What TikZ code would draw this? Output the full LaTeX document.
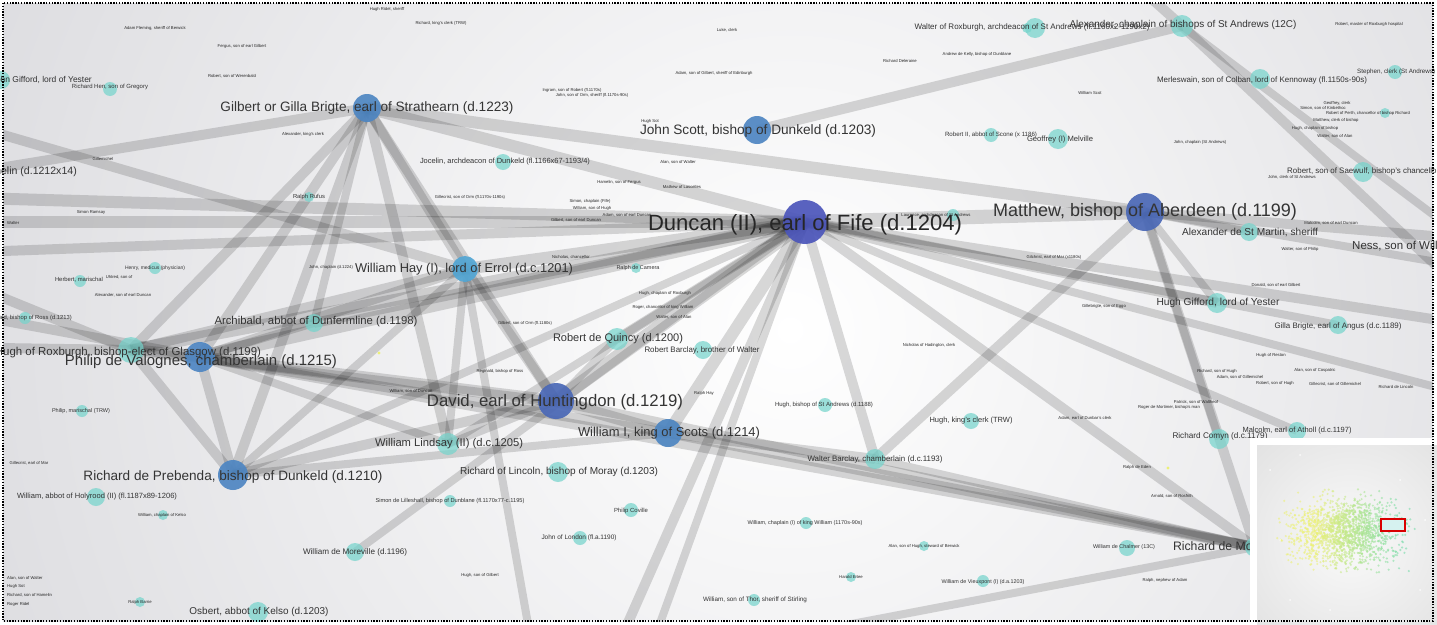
\documentclass[tikz,border=0pt]{standalone}
\usepackage{graphicx}
\usepackage{fontspec}
\setmainfont{Liberation Sans}
\definecolor{bgedge}{RGB}{216,216,220}
\definecolor{hubD}{RGB}{76,86,186}
\definecolor{hubM}{RGB}{74,104,182}
\definecolor{hubB}{RGB}{78,134,194}
\definecolor{hubL}{RGB}{82,166,212}
\definecolor{tealn}{RGB}{118,212,204}
\definecolor{labcol}{RGB}{52,52,52}
\definecolor{cloudY}{RGB}{236,240,120}
\definecolor{cloudG}{RGB}{120,220,170}
\newcommand{\fw}[2]{\resizebox{#1pt}{!}{#2}}
\pgfdeclarelayer{bg}
\pgfdeclarelayer{edges}
\pgfsetlayers{bg,edges,main}
\begin{document}
\begin{tikzpicture}[x=1pt,y=-1pt,
  band/.style={draw=black, draw opacity=0.15, line width=#1},
  hub/.style={circle, inner sep=0pt, minimum size=#1, fill opacity=0.92},
  tnode/.style={circle, inner sep=0pt, minimum size=#1, fill=tealn, fill opacity=0.72},
  lab/.style={inner sep=0pt, text=labcol},
  slab/.style={inner sep=0pt, text=black!80},
  tlab/.style={inner sep=0pt, font=\fontsize{4.2}{5}\selectfont, text=black!85},
]
\useasboundingbox (0,0) rectangle (1437,624);

% ---------- background ----------
\begin{pgfonlayer}{bg}
\fill[white] (0,0) rectangle (1437,624);
\begin{scope}
\clip (3,3) rectangle (1433,621);
\shade[inner color=white, outer color=bgedge] (790,330) circle (1000pt);
\end{scope}
\end{pgfonlayer}

% ---------- people: circles ----------
\node[hub=44pt, fill=hubD] (D)  at (805,222) {};
\node[hub=38pt, fill=hubM] (M)  at (1145,212) {};
\node[hub=36pt, fill=hubM] (DH) at (556,401) {};
\node[hub=28pt, fill=hubB] (JS) at (757,130) {};
\node[hub=28pt, fill=hubB] (G)  at (367,108) {};
\node[hub=30pt, fill=hubB] (PV) at (200,357) {};
\node[hub=30pt, fill=hubB] (RP) at (233,475) {};
\node[hub=28pt, fill=hubB] (WK) at (668,433) {};
\node[hub=26pt, fill=hubL] (WH) at (465,269) {};
\node[tnode=26pt] (HR)  at (131,350) {};
\node[tnode=18pt] (AR)  at (314,323) {};
\node[tnode=22pt] (RQ)  at (617,339) {};
\node[tnode=18pt] (RB)  at (703,350) {};
\node[tnode=22pt] (WL)  at (448,444) {};
\node[tnode=20pt] (RL)  at (558,472) {};
\node[tnode=20pt] (WB)  at (875,459) {};
\node[tnode=16pt] (HK)  at (971,421) {};
\node[tnode=14pt] (HB)  at (825,405) {};
\node[tnode=20pt] (HG)  at (1217,303) {};
\node[tnode=18pt] (GA)  at (1338,325) {};
\node[tnode=18pt] (AM)  at (1249,232) {};
\node[tnode=22pt] (AC)  at (1182,26) {};
\node[tnode=20pt] (WR)  at (1035,28) {};
\node[tnode=20pt] (MS)  at (1260,79) {};
\node[tnode=20pt] (RS)  at (1363,172) {};
\node[tnode=20pt] (GM)  at (1058,139) {};
\node[tnode=14pt] (RSc) at (991,135) {};
\node[tnode=16pt] (JD)  at (503,162) {};
\node[tnode=20pt] (RC)  at (1219,439) {};
\node[tnode=18pt] (MA)  at (1297,431) {};
\node[tnode=16pt] (WC)  at (1127,548) {};
\node[tnode=18pt] (WdM) at (355,552) {};
\node[tnode=20pt] (OK)  at (258,612) {};
\node[tnode=18pt] (WHo) at (96,497) {};
\node[tnode=14pt] (JL)  at (580,538) {};
\node[tnode=14pt] (PC)  at (631,510) {};
\node[tnode=20pt] (RM)  at (1255,547) {};
\node[tnode=14pt] (ST)  at (1395,72) {};
\node[tnode=18pt] (JG)  at (1,80) {};
\node[tnode=14pt] (RH)  at (110,89) {};
\node[tnode=12pt] (PM)  at (82,411) {};
\node[tnode=12pt] (HM)  at (80,281) {};
\node[tnode=12pt] (HP)  at (155,268) {};
\node[tnode=12pt] (BR)  at (25,318) {};
\node[tnode=12pt] (SL)  at (450,501) {};
\node[tnode=12pt] (WCh) at (806,523) {};
\node[tnode=10pt] (SH)  at (924,546) {};
\node[tnode=10pt] (HE)  at (851,577) {};
\node[tnode=12pt] (WV)  at (983,581) {};
\node[tnode=12pt] (WT)  at (754,600) {};
\node[tnode=12pt] (LA)  at (953,215) {};
\node[tnode=10pt] (RR)  at (309,197) {};
\node[tnode=10pt] (RCa) at (636,268) {};
\node[tnode=10pt] (RPe) at (1385,113) {};
\node[tnode=10pt] (WCk) at (163,515) {};
\node[tnode=10pt] (RBa) at (140,602) {};
\node[tnode=10pt] (RHe) at (1027,28) {};

% ---------- off-picture ends of connectors ----------
\coordinate (L1) at (-300,190);
\coordinate (L2) at (-300,222);
\coordinate (L3) at (-300,262);
\coordinate (L4) at (-200,283);
\coordinate (L5) at (-200,215);
\coordinate (L6) at (-200,345);
\coordinate (L7) at (-100,105);
\coordinate (HMn) at (-25,172);
\coordinate (B1) at (585,720);
\coordinate (B2) at (625,720);
\coordinate (B3) at (545,720);
\coordinate (B4) at (600,672);
\coordinate (R1) at (1600,345);
\coordinate (R2) at (1600,430);
\coordinate (R3) at (1600,250);
\coordinate (R4) at (1600,290);
\coordinate (R5) at (1600,420);
\coordinate (R6) at (1600,340);
\coordinate (T1) at (1064,-80);

% ---------- connectors ----------
\begin{pgfonlayer}{edges}
\begin{scope}
\clip (3,3) rectangle (1433,621);
% Duncan
\draw[band=14] (D.center) -- (M.center);
\draw[band=12] (D.center) -- (G.center);
\draw[band=12] (D.center) -- (WH.center);
\draw[band=10] (D.center) -- (AR.center);
\draw[band=14] (D.center) -- (PV.center);
\draw[band=12] (D.center) -- (HR.center);
\draw[band=10] (D.center) -- (RQ.center);
\draw[band=14] (D.center) -- (DH.center);
\draw[band=12] (D.center) -- (WK.center);
\draw[band=8]  (D.center) -- (WL.center);
\draw[band=8]  (D.center) -- (RP.center);
\draw[band=10] (D.center) -- (WB.center);
\draw[band=10] (D.center) -- (RM.center);
\draw[band=10] (D.center) -- (HG.center);
\draw[band=8]  (D.center) -- (GA.center);
\draw[band=8]  (D.center) -- (MA.center);
\draw[band=8]  (D.center) -- (WdM.center);
\draw[band=12] (D.center) -- (L1);
\draw[band=12] (D.center) -- (L2);
\draw[band=10] (D.center) -- (L3);
\draw[band=10] (D.center) -- (B1);
\draw[band=8]  (D.center) -- (B2);
\draw[band=10] (D.center) -- (R1);
\draw[band=8]  (D.center) -- (R2);
% Matthew
\draw[band=12] (M.center) -- (G.center);
\draw[band=10] (M.center) -- (WB.center);
\draw[band=10] (M.center) -- (RM.center);
\draw[band=8]  (M.center) -- (HG.center);
\draw[band=8]  (M.center) -- (AM.center);
\draw[band=8]  (M.center) -- (RC.center);
\draw[band=10] (M.center) -- (R3);
\draw[band=8]  (M.center) -- (R4);
% John Scott and the chaplain
\draw[band=10] (JS.center) -- (AC.center);
\draw[band=10] (T1) -- (AC.center);
\draw[band=10] (AC.center) -- (R5);
\draw[band=8]  (AC.center) -- (R6);
% Gilbert
\draw[band=10] (G.center) -- (PV.center);
\draw[band=10] (G.center) -- (HR.center);
\draw[band=10] (G.center) -- (RP.center);
\draw[band=10] (G.center) -- (WH.center);
\draw[band=10] (G.center) -- (WL.center);
\draw[band=10] (G.center) -- (DH.center);
\draw[band=8]  (G.center) -- (AR.center);
\draw[band=10] (G.center) -- (HMn);
% William Hay
\draw[band=10] (WH.center) -- (L7);
\draw[band=10] (WH.center) -- (PV.center);
\draw[band=10] (WH.center) -- (HR.center);
\draw[band=8]  (WH.center) -- (RP.center);
\draw[band=10] (WH.center) -- (DH.center);
\draw[band=8]  (WH.center) -- (WL.center);
\draw[band=8]  (WH.center) -- (B3);
% Philip de Valognes
\draw[band=12] (PV.center) -- (HR.center);
\draw[band=10] (PV.center) -- (RP.center);
\draw[band=12] (PV.center) -- (DH.center);
\draw[band=10] (PV.center) -- (WK.center);
\draw[band=10] (PV.center) -- (RM.center);
\draw[band=8]  (PV.center) -- (AR.center);
\draw[band=8]  (PV.center) -- (WL.center);
\draw[band=10] (PV.center) -- (L4);
% Hugh of Roxburgh
\draw[band=10] (HR.center) -- (RP.center);
\draw[band=10] (HR.center) -- (L5);
\draw[band=10] (HR.center) -- (L6);
\draw[band=8]  (HR.center) -- (DH.center);
% David, William I and the rest
\draw[band=12] (DH.center) -- (WK.center);
\draw[band=10] (DH.center) -- (RP.center);
\draw[band=10] (DH.center) -- (RM.center);
\draw[band=8]  (DH.center) -- (RQ.center);
\draw[band=8]  (DH.center) -- (WL.center);
\draw[band=10] (WK.center) -- (RM.center);
\draw[band=10] (WK.center) -- (WB.center);
\draw[band=8]  (WK.center) -- (RP.center);
\draw[band=8]  (WB.center) -- (RM.center);
\draw[band=8]  (RM.center) -- (B4);
\end{scope}
\end{pgfonlayer}

% ---------- labels ----------
\node[lab, text=black!85] (Dl) at (805,225) {\fw{314}{Duncan (II), earl of Fife (d.1204)}};
\node[lab] (Ml)  at (1145,212) {\fw{304}{Matthew, bishop of Aberdeen (d.1199)}};
\node[lab] (JSl) at (758,131) {\fw{236}{John Scott, bishop of Dunkeld (d.1203)}};
\node[lab] (Gl)  at (367,108) {\fw{293}{Gilbert or Gilla Brigte, earl of Strathearn (d.1223)}};
\node[lab] (WHl) at (464,269) {\fw{218}{William Hay (I), lord of Errol (d.c.1201)}};
\node[lab] (ARl) at (316,322) {\fw{203}{Archibald, abbot of Dunfermline (d.1198)}};
\node[lab] (HRl) at (128,353) {\fw{266}{Hugh of Roxburgh, bishop-elect of Glasgow (d.1199)}};
\node[lab] (PVl) at (201,362) {\fw{272}{Philip de Valognes, chamberlain (d.1215)}};
\node[lab] (DHl) at (555,402) {\fw{256}{David, earl of Huntingdon (d.1219)}};
\node[lab] (RQl) at (618,339) {\fw{130}{Robert de Quincy (d.1200)}};
\node[slab] (RBl) at (702,350) {\fw{115}{Robert Barclay, brother of Walter}};
\node[lab] (WKl) at (669,433) {\fw{182}{William I, king of Scots (d.1214)}};
\node[lab] (WLl) at (449,444) {\fw{148}{William Lindsay (II) (d.c.1205)}};
\node[lab] (RLl) at (559,472) {\fw{198}{Richard of Lincoln, bishop of Moray (d.1203)}};
\node[lab] (RPl) at (233,477) {\fw{299}{Richard de Prebenda, bishop of Dunkeld (d.1210)}};
\node[slab] (WHol) at (97,497) {\fw{160}{William, abbot of Holyrood (II) (fl.1187x89-1206)}};
\node[slab] (WdMl) at (355,552) {\fw{104}{William de Moreville (d.1196)}};
\node[lab] (OKl) at (259,612) {\fw{139}{Osbert, abbot of Kelso (d.1203)}};
\node[slab] (WBl) at (875,459) {\fw{135}{Walter Barclay, chamberlain (d.c.1193)}};
\node[slab] (HKl) at (971,421) {\fw{83}{Hugh, king's clerk (TRW)}};
\node[slab] (HBl) at (824,405) {\fw{98}{Hugh, bishop of St Andrews (d.1188)}};
\node[slab] (RCl) at (1220,436) {\fw{95}{Richard Comyn (d.c.1179)}};
\node[slab] (MAl) at (1297,431) {\fw{109}{Malcolm, earl of Atholl (d.c.1197)}};
\node[slab] (WCl) at (1124,547) {\fw{62}{William de Chalmer (13C)}};
\node[lab] (RMl) at (1253,547) {\fw{160}{Richard de Moreville (d.1189)}};
\node[slab] (HGl) at (1218,303) {\fw{123}{Hugh Gifford, lord of Yester}};
\node[slab] (GAl) at (1338,326) {\fw{127}{Gilla Brigte, earl of Angus (d.c.1189)}};
\node[slab] (AMl) at (1250,232) {\fw{136}{Alexander de St Martin, sheriff}};
\node[lab, anchor=west] (NSl) at (1352,246) {\fw{104}{Ness, son of William}};
\node[slab] (WRl) at (1032,27) {\fw{235}{Walter of Roxburgh, archdeacon of St Andrews (fl.1160x2-1190x2)}};
\node[lab] (ACl) at (1183,25) {\fw{227}{Alexander, chaplain of bishops of St Andrews (12C)}};
\node[slab] (MSl) at (1262,80) {\fw{210}{Merleswain, son of Colban, lord of Kennoway (fl.1150s-90s)}};
\node[slab, anchor=west] (STl) at (1357,72) {\fw{78}{Stephen, clerk (St Andrews)}};
\node[slab, anchor=west] (RSl) at (1287,171) {\fw{152}{Robert, son of Saewulf, bishop's chancellor}};
\node[slab] (RScl) at (991,135) {\fw{92}{Robert II, abbot of Scone (x 1186)}};
\node[slab] (GMl) at (1060,140) {\fw{66}{Geoffrey (I) Melville}};
\node[slab] (JDl) at (505,162) {\fw{170}{Jocelin, archdeacon of Dunkeld (fl.1166x67-1193/4)}};
\node[lab, anchor=east] (HMl) at (77,172) {\fw{98}{Hamelin (d.1212x14)}};
\node[slab, anchor=east] (JGl) at (92,80) {\fw{100}{John Gifford, lord of Yester}};
\node[slab] (RHl) at (110,87) {\fw{76}{Richard Hen, son of Gregory}};
\node[slab] (PMl) at (81,411) {\fw{58}{Philip, marischal (TRW)}};
\node[slab] (HMal) at (79,280) {\fw{48}{Herbert, marischal}};
\node[slab] (HPl) at (155,268) {\fw{60}{Henry, medicus (physician)}};
\node[slab, anchor=east] (BRl) at (72,318) {\fw{88}{Reginald, bishop of Ross (d.1213)}};
\node[slab] (SLl) at (450,501) {\fw{149}{Simon de Lilleshall, bishop of Dunblane (fl.1170x77-c.1195)}};
\node[slab] (PCl) at (631,511) {\fw{34}{Philip Coville}};
\node[slab] (JLl) at (579,538) {\fw{75}{John of London (fl.a.1190)}};
\node[slab] (WChl) at (805,523) {\fw{115}{William, chaplain (I) of king William (1170s-90s)}};
\node[slab] (WTl) at (755,600) {\fw{104}{William, son of Thor, sheriff of Stirling}};
\node[slab] (WVl) at (983,582) {\fw{83}{William de Vieuxpont (I) (d.a.1203)}};
\node[slab] (RRl) at (309,197) {\fw{32}{Ralph Rufus}};
\node[slab] (RCal) at (638,268) {\fw{43}{Ralph de Camera}};

% small print of the lesser names
\node[tlab] (t1)  at (155,28)  {Adam Fleming, sheriff of Berwick};
\node[tlab] (t2)  at (242,46)  {Fergus, son of earl Gilbert};
\node[tlab] (t3)  at (232,76)  {Robert, son of Werenbald};
\node[tlab] (t4)  at (303,134) {Alexander, king's clerk};
\node[tlab] (t5)  at (103,159) {Gillemichel};
\node[tlab] (t6)  at (387,9)   {Hugh Ridel, sheriff};
\node[tlab] (t7)  at (441,23)  {Richard, king's clerk (TRW)};
\node[tlab] (t8)  at (572,90)  {Ingram, son of Robert (fl.1170s)};
\node[tlab] (t9)  at (592,95)  {John, son of Orm, sheriff (fl.1170s-90s)};
\node[tlab] (t10) at (650,121) {Hugh Sot};
\node[tlab] (t11) at (470,197) {Gillecrist, son of Orm (fl.1170s-1190s)};
\node[tlab] (t12) at (590,201) {Simon, chaplain (Fife)};
\node[tlab] (t13) at (619,182) {Hamelin, son of Fergus};
\node[tlab] (t14) at (682,187) {Mathew of Lascelles};
\node[tlab] (t15) at (678,162) {Alan, son of Walter};
\node[tlab] (t16) at (727,30)  {Luke, clerk};
\node[tlab] (t17) at (977,54)  {Andrew de Kelly, bishop of Dunblane};
\node[tlab] (t18) at (900,61)  {Richard Deleraine};
\node[tlab] (t19) at (714,73)  {Adam, son of Gilbert, sheriff of Edinburgh};
\node[tlab] (t20) at (1369,24) {Robert, master of Roxburgh hospital};
\node[tlab] (t21) at (1090,93) {William Scot};
\node[tlab] (t22) at (1337,103) {Geoffrey, clerk};
\node[tlab] (t23) at (1323,108) {Simon, son of Kinbethoc};
\node[tlab] (t24) at (1368,113) {Robert of Perth, chancellor of bishop Richard};
\node[tlab] (t25) at (1336,120) {Matthew, clerk of bishop};
\node[tlab] (t26) at (1315,128) {Hugh, chaplain of bishop};
\node[tlab] (t27) at (1335,136) {Walter, son of Alan};
\node[tlab] (t28) at (1200,142) {John, chaplain (St Andrews)};
\node[tlab] (t29) at (1292,177) {John, clerk of St Andrews};
\node[tlab] (t30) at (1331,223) {Malcolm, son of earl Duncan};
\node[tlab] (t31) at (1300,249) {Walter, son of Philip};
\node[tlab] (t32) at (1276,285) {Donald, son of earl Gilbert};
\node[tlab] (t33) at (1104,306) {Gillebrigte, son of Eggo};
\node[tlab] (t34) at (1054,257) {Gilchrist, earl of Mar (x1180s)};
\node[tlab] (t35) at (1271,355) {Hugh of Reston};
\node[tlab] (t36) at (1217,371) {Richard, son of Hugh};
\node[tlab] (t37) at (1240,377) {Adam, son of Gillemichel};
\node[tlab] (t38) at (1315,370) {Alan, son of Cospatric};
\node[tlab] (t39) at (1275,383) {Robert, son of Hugh};
\node[tlab] (t40) at (1335,384) {Gillecrist, son of Gillemichel};
\node[tlab] (t41) at (1396,387) {Richard de Lincoln};
\node[tlab] (t42) at (1196,402) {Patrick, son of Waltheof};
\node[tlab] (t43) at (1169,407) {Roger de Mortimer, bishop's man};
\node[tlab] (t44) at (1085,418) {Adam, earl of Dunbar's clerk};
\node[tlab] (t45) at (1137,467) {Ralph de Eden};
\node[tlab] (t46) at (1172,496) {Arnold, son of Rosfrith};
\node[tlab] (t47) at (1165,580) {Ralph, nephew of Adam};
\node[tlab] (t48) at (924,546) {Alan, son of Hugh, steward of Berwick};
\node[tlab] (t49) at (851,577) {Harald Ertee};
\node[tlab] (t50) at (480,575) {Hugh, son of Gilbert};
\node[tlab] (t51) at (162,515) {William, chaplain of Kelso};
\node[tlab] (t52) at (140,602) {Ralph Barrie};
\node[tlab] (t53) at (29,463)  {Gillecrist, earl of Mar};
\node[tlab, anchor=west] (t54) at (7,578) {Alan, son of Walter};
\node[tlab, anchor=west] (t55) at (7,586) {Hugh Sot};
\node[tlab, anchor=west] (t56) at (7,595) {Richard, son of Hamelin};
\node[tlab, anchor=west] (t57) at (7,604) {Roger Ridel};
\node[tlab] (t58) at (91,212)  {Simon Ramsay};
\node[tlab, anchor=west] (t59) at (7,223) {Walter};
\node[tlab] (t60) at (331,267) {John, chaplain (d.1224)};
\node[tlab] (t61) at (119,277) {Uhtred, son of};
\node[tlab] (t62) at (123,295) {Alexander, son of earl Duncan};
\node[tlab] (t63) at (576,220) {Gilbert, son of earl Duncan};
\node[tlab] (t64) at (627,215) {Adam, son of earl Duncan};
\node[tlab] (t65) at (592,208) {William, son of Hugh};
\node[tlab] (t66) at (571,257) {Nicholas, chancellor};
\node[tlab] (t67) at (665,293) {Hugh, chaplain of Roxburgh};
\node[tlab] (t68) at (663,307) {Roger, chancellor of king William};
\node[tlab] (t69) at (674,317) {Walter, son of Alan};
\node[tlab] (t70) at (525,323) {Gilbert, son of Orm (fl.1180s)};
\node[tlab] (t71) at (500,371) {Reginald, bishop of Ross};
\node[tlab] (t72) at (411,391) {William, son of Duncan};
\node[tlab] (t73) at (704,393) {Ralph Hay};
\node[tlab] (t74) at (929,345) {Nicholas of Hadington, clerk};
\node[tlab] (t75) at (936,215) {Laurence, archdeacon of St Andrews};

\fill[cloudY] (379,353) circle (1.6pt);
\fill[cloudY] (1168,468) circle (1.6pt);

% ---------- overview inset ----------
\fill[white] (1250,438) rectangle (1437,624);
\begin{scope}
\clip (1257,445) rectangle (1437,624);
\shade[inner color=white!96!gray, outer color=gray!30] (1350,540) circle (190pt);
\pgfmathsetseed{17}
\foreach \i in {1,...,1600}{
  \pgfmathsetmacro{\ux}{(rand+rand+rand)/3}
  \pgfmathsetmacro{\uy}{(rand+rand+rand)/3}
  \pgfmathtruncatemacro{\mx}{max(0,min(100,35+90*\ux))}
  \fill[cloudG!\mx!cloudY, opacity=0.6] ({1345+78*\ux},{532+48*\uy}) circle (1.2pt);
}
\foreach \p in {(1270,470),(1300,455),(1400,480),(1290,600),(1330,610),(1420,590),(1280,540),(1425,520)}{
  \fill[white, opacity=0.8] \p circle (1pt);
}
\fill[white!70!tealn] (1381,519) rectangle (1405,531);
\draw[red!85!black, line width=1.8pt] (1381,519) rectangle (1405,531);
\end{scope}

% ---------- frame ----------
\draw[black, line width=1.2pt, dash pattern=on 1.4pt off 1.4pt] (3,3) rectangle (1433,621);
\end{tikzpicture}
\end{document}
